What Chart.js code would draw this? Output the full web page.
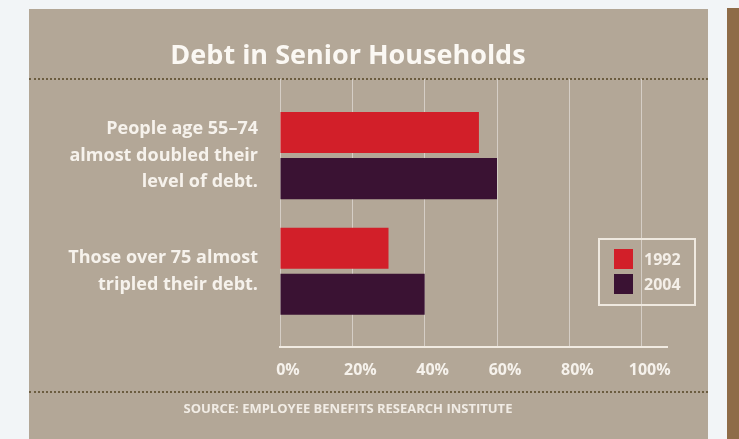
<!DOCTYPE html>
<html>
<head>
<meta charset="utf-8">
<script src="https://cdn.jsdelivr.net/npm/chart.js@4.4.1/dist/chart.umd.min.js"></script>
<style>
  html, body { margin: 0; padding: 0; }
  body { width: 739px; height: 439px; background: #f2f5f7; position: relative; overflow: hidden; font-family: 'Open Sans', sans-serif; }
  #panel { position: absolute; left: 29px; top: 9px; width: 679px; height: 430px; background: #b3a797; }
  #strip { position: absolute; left: 727px; top: 8px; width: 12px; height: 431px; background: #8e6c48; }
  .dots { position: absolute; left: 0; width: 679px; border-top: 2px dotted #6c5d40; }
  #legend { position: absolute; left: 569px; top: 229px; width: 94px; height: 64px; border: 2px solid #efe9e0; }
  #legend div { position: absolute; left: 44px; font: bold 16px 'Open Sans', sans-serif; color: #f4efe8; line-height: 20px; }
  #legend span { position: absolute; left: -30px; top: 0; width: 19px; height: 20px; }
</style>
</head>
<body>
<div id="panel">
  <canvas id="my-canvas" width="679" height="430"></canvas>
  <div class="dots" style="top: 69px;"></div>
  <div class="dots" style="top: 382px;"></div>
  <div id="legend"></div>
</div>
<div id="strip"></div>
<script>
const categories = [
  ['People age 55\u201374', 'almost doubled their', 'level of debt.'],
  ['Those over 75 almost', 'tripled their debt.'],
];
const years = ['1992', '2004'];
const debt1992 = [55, 30];
const debt2004 = [60, 40];
const xTicks = [0, 20, 40, 60, 80, 100];

const textColor = '#f6f2ec';

// bars sit on a linear index axis so the rows can be placed freely
const toPoints = values => values.map((v, i) => ({ x: v, y: i }));

const data = {
  datasets: [
    {
      label: years[0],
      data: toPoints(debt1992),
      backgroundColor: '#d21f29',
    },
    {
      label: years[1],
      data: toPoints(debt2004),
      backgroundColor: '#3a1233',
    },
  ],
};

const config = {
  type: 'bar',
  data: data,
  options: {
    indexAxis: 'y',
    responsive: false,
    animation: false,
    categoryPercentage: 0.797,
    barPercentage: 0.891,
    layout: {
      padding: { left: 0, right: 41, top: 0, bottom: 0 },
    },
    plugins: {
      legend: { display: false },
      tooltip: { enabled: false },
      title: {
        display: true,
        text: 'Debt in Senior Households',
        color: '#fbf8f3',
        font: { family: 'Open Sans', size: 27, weight: 'bold', lineHeight: 1.2 },
        padding: { top: 30.8, bottom: 6.8 },
      },
      subtitle: {
        display: true,
        position: 'bottom',
        text: 'SOURCE: EMPLOYEE BENEFITS RESEARCH INSTITUTE',
        color: '#f1ece5',
        font: { family: 'Open Sans', size: 13, weight: 'bold', lineHeight: 1.2 },
        padding: { top: 9, bottom: 21.8 },
      },
    },
    scales: {
      x: {
        type: 'linear',
        min: 0,
        max: 107,
        ticks: {
          stepSize: 20,
          includeBounds: false,
          padding: 13,
          labelOffset: 8,
          color: textColor,
          font: { family: 'Open Sans', size: 16, weight: 'bold', lineHeight: 1.2 },
          callback: value => (xTicks.includes(value) ? value + '%' : ''),
        },
        grid: {
          color: 'rgba(255, 255, 255, 0.45)',
          lineWidth: 1,
          drawTicks: false,
        },
        border: { display: true, color: '#f1ebe2', width: 2 },
      },
      y: {
        type: 'linear',
        reverse: true,
        offset: false,
        min: -0.662,
        max: 1.658,
        afterFit: scale => {
          scale.width = 251;
          scale.paddingTop = 0;
          scale.paddingBottom = 0;
        },
        ticks: {
          stepSize: 1,
          includeBounds: false,
          padding: 22,
          color: textColor,
          font: { family: 'Open Sans', size: 18, weight: 'bold', lineHeight: 1.47 },
          callback: value => categories[value] || '',
        },
        grid: { display: false, drawTicks: false, offset: false },
        border: { display: false },
      },
    },
  },
};

const chart = new Chart('my-canvas', config);

// legend box built from the datasets
const legendBox = document.getElementById('legend');
chart.data.datasets.forEach((ds, i) => {
  const row = document.createElement('div');
  row.style.top = 9 + i * 25 + 'px';
  row.innerHTML = `<span style="background:${ds.backgroundColor}"></span>${ds.label}`;
  legendBox.appendChild(row);
});
</script>
</body>
</html>
